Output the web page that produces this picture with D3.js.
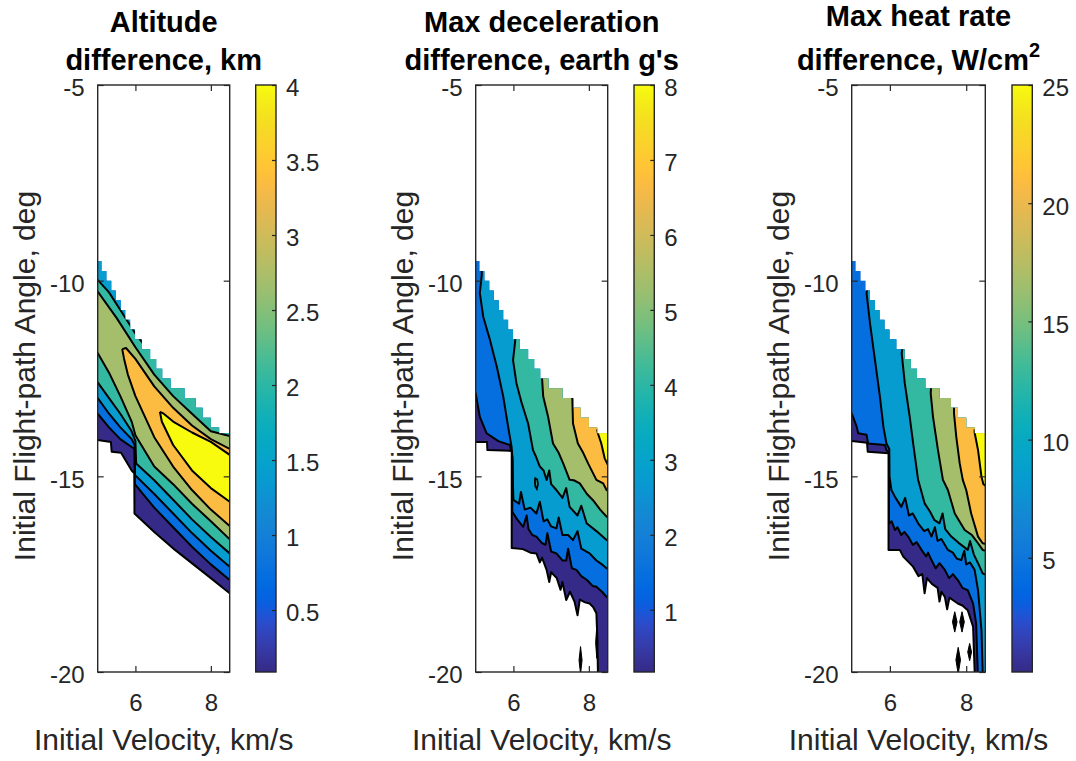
<!DOCTYPE html>
<html>
<head>
<meta charset="utf-8">
<script src="https://cdn.jsdelivr.net/npm/d3@7"></script>
<style>
  body { margin: 0; background: #fff; }
  svg text { font-family: "Liberation Sans", Arial, Helvetica, sans-serif; }
</style>
</head>
<body>
<svg id="chart" width="1076" height="761"></svg>
<script>
// ---- data (velocity km/s, flight-path angle deg) ----
var velTicks = [6, 8];
var gammaTicks = [-5, -10, -15, -20];
var altTicks = [0.5, 1, 1.5, 2, 2.5, 3, 3.5, 4];
var decTicks = [1, 2, 3, 4, 5, 6, 7, 8];
var heatTicks = [5, 10, 15, 20, 25];

// upper edge of the simulated region (same grid for all three)
var topEdge = [[5.0,-9.5],[5.1,-9.75],[5.23,-10.0],[5.36,-10.25],[5.48,-10.5],[5.61,-10.75],[5.73,-11.0],
  [5.86,-11.25],[5.99,-11.5],[6.17,-11.75],[6.39,-12.0],[6.55,-12.25],[6.71,-12.5],[6.93,-12.75],
  [7.3,-13.0],[7.6,-13.25],[7.78,-13.5],[8.0,-13.75],[8.22,-13.9],[8.5,-13.9]];

// altitude difference
var altBottom = [[5.0,-14.07],[5.35,-14.12],[5.37,-14.37],[5.62,-14.4],[5.9,-14.85],[5.97,-14.92],
  [5.975,-15.95],[6.5,-16.42],[7.05,-16.88],[7.84,-17.48],[8.5,-17.99],[8.6,-18.05]];
var altL1 = [[4.95,-13.4],[5.0,-13.4],[5.3,-13.75],[5.6,-14.05],[5.9,-14.25],[5.975,-14.3],[5.985,-15.2],
  [6.5,-15.8],[7.0,-16.3],[7.5,-16.8],[8.0,-17.25],[8.5,-17.65],[8.6,-17.7]];
var altL2 = [[4.95,-13.0],[5.0,-13.0],[5.3,-13.4],[5.6,-13.75],[5.9,-14.05],[5.98,-14.2],[5.99,-14.97],
  [6.5,-15.45],[7.0,-15.95],[7.5,-16.45],[8.0,-16.9],[8.5,-17.31],[8.6,-17.35]];
var altL3 = [[4.95,-12.6],[5.0,-12.6],[5.3,-13.0],[5.6,-13.4],[5.9,-13.85],[6.0,-14.1],[6.02,-14.67],
  [6.5,-15.1],[7.0,-15.6],[7.5,-16.1],[8.0,-16.55],[8.5,-16.97],[8.6,-17.0]];
var altL3u = [[4.95,-9.98],[5.0,-9.98],[5.3,-10.3],[5.6,-10.75],[6.0,-11.35],[6.2,-11.6]];
var altL4 = [[4.95,-11.85],[5.0,-11.85],[5.3,-12.35],[5.6,-12.95],[5.9,-13.6],[6.0,-13.95],[6.5,-14.75],
  [7.0,-15.2],[7.5,-15.7],[8.0,-16.15],[8.5,-16.61],[8.6,-16.65]];
var altL4u = [[4.95,-10.28],[5.0,-10.28],[5.5,-10.95],[6.0,-11.7],[6.5,-12.4],[7.0,-12.95],[7.5,-13.4],
  [8.0,-13.85],[8.5,-13.97],[8.6,-13.98]];
var altL5u = [[5.65,-11.75],[5.75,-11.72],[6.0,-12.0],[6.5,-12.7],[7.0,-13.25],[7.5,-13.7],[8.0,-14.05],
  [8.5,-14.3],[8.6,-14.32]];
var altL5 = [[5.65,-11.75],[5.7,-12.0],[5.8,-12.4],[6.0,-12.95],[6.5,-14.0],[7.0,-14.75],[7.5,-15.35],
  [8.0,-15.85],[8.5,-16.27],[8.6,-16.3]];
var altL6u = [[6.65,-13.35],[6.75,-13.4],[7.0,-13.6],[7.5,-13.88],[8.0,-14.12],[8.5,-14.45],[8.6,-14.47]];
var altL6 = [[6.65,-13.35],[6.7,-13.6],[7.0,-14.2],[7.5,-14.85],[8.0,-15.3],[8.5,-15.65],[8.6,-15.68]];

// max deceleration difference
var decBottom = [[5.0,-14.12],[5.3,-14.12],[5.31,-14.33],[5.955,-14.35],[5.955,-16.83],[6.25,-16.86],
  [6.45,-16.95],[6.61,-16.97],[6.7,-17.2],[6.76,-17.08],[6.88,-17.39],[6.95,-17.7],[7.0,-17.45],
  [7.15,-17.6],[7.25,-17.9],[7.3,-17.7],[7.4,-18.16],[7.5,-17.95],[7.62,-18.2],[7.7,-18.55],
  [7.76,-18.15],[7.9,-18.22],[8.02,-18.25],[8.12,-18.35],[8.2,-18.5],[8.22,-19.0],[8.24,-19.95],
  [8.24,-20.3],[8.6,-20.3]];
var decL1 = [[4.95,-12.88],[5.0,-12.88],[5.11,-13.48],[5.29,-13.9],[5.6,-14.1],[5.91,-14.2],[5.97,-14.5],
  [5.97,-15.9],[6.0,-15.95],[6.1,-16.1],[6.26,-16.29],[6.35,-16.0],[6.4,-16.35],[6.5,-16.5],[6.61,-16.54],
  [6.75,-16.7],[6.85,-16.75],[6.9,-16.45],[7.0,-16.92],[7.14,-16.97],[7.3,-17.15],[7.4,-17.15],
  [7.45,-16.85],[7.55,-17.35],[7.67,-17.39],[7.8,-17.55],[7.95,-17.65],[8.1,-17.8],[8.2,-17.82],
  [8.35,-17.95],[8.47,-18.08],[8.6,-18.1]];
var decL2 = [[5.16,-9.6],[5.16,-9.86],[5.11,-10.32],[5.2,-10.92],[5.38,-11.52],[5.56,-12.2],[5.73,-12.96],
  [5.86,-13.73],[5.95,-14.24],[5.98,-14.6],[5.99,-15.3],[6.0,-15.6],[6.15,-15.7],[6.2,-15.4],[6.3,-15.85],
  [6.45,-15.8],[6.61,-15.95],[6.7,-15.65],[6.8,-16.15],[6.9,-16.1],[7.0,-16.28],[7.14,-16.33],
  [7.2,-16.05],[7.3,-16.5],[7.45,-16.5],[7.58,-16.63],[7.7,-16.4],[7.8,-16.85],[8.02,-16.97],
  [8.2,-17.15],[8.35,-17.25],[8.47,-17.35],[8.6,-17.38]];
var decL3 = [[6.06,-11.4],[6.04,-11.6],[5.99,-12.03],[6.08,-12.62],[6.22,-13.13],[6.39,-13.65],
  [6.52,-14.33],[6.6,-14.5],[6.7,-14.75],[6.8,-14.85],[6.88,-15.09],[6.95,-14.85],[7.0,-15.2],
  [7.14,-15.35],[7.3,-15.55],[7.4,-15.3],[7.49,-15.78],[7.7,-16.0],[7.8,-15.75],[7.94,-16.2],
  [8.2,-16.4],[8.47,-16.63],[8.6,-16.65]];
var decL4 = [[6.75,-12.35],[6.79,-12.96],[6.92,-13.48],[7.05,-14.16],[7.2,-14.4],[7.32,-14.67],
  [7.49,-15.09],[7.6,-15.1],[7.76,-15.18],[7.95,-15.45],[8.11,-15.61],[8.3,-15.85],[8.47,-16.03],[8.6,-16.05]];
var decL5 = [[7.56,-12.95],[7.58,-13.65],[7.71,-14.16],[7.85,-14.4],[7.98,-14.67],[8.2,-15.09],
  [8.38,-15.18],[8.47,-15.35],[8.6,-15.4]];
var decL6 = [[8.22,-13.8],[8.24,-13.9],[8.33,-14.16],[8.42,-14.54],[8.5,-14.7],[8.6,-14.72]];
var decLoop = [[6.58,-15.05],[6.63,-15.08],[6.65,-15.2],[6.62,-15.32],[6.58,-15.25],[6.57,-15.12]];
var decBlobs = [
  [[7.78,-19.35],[7.82,-19.7],[7.78,-20.05],[7.74,-19.7]],
  [[8.21,-18.85],[8.24,-19.25],[8.21,-19.65],[8.18,-19.25]]
];

// max heat rate difference
var heatBottom = [[5.0,-14.1],[5.4,-14.14],[5.42,-14.37],[5.965,-14.41],[5.965,-16.88],[6.26,-16.88],
  [6.35,-17.05],[6.44,-17.14],[6.6,-17.3],[6.75,-17.55],[6.85,-17.5],[6.91,-17.99],[6.97,-17.6],
  [7.1,-17.75],[7.25,-17.85],[7.3,-18.2],[7.35,-17.95],[7.44,-18.08],[7.5,-18.4],[7.56,-18.1],
  [7.78,-18.25],[7.9,-18.3],[8.04,-18.42],[8.18,-18.84],[8.22,-19.95],[8.22,-20.3],[8.6,-20.3]];
var heatL1 = [[4.95,-13.39],[5.0,-13.39],[5.13,-13.73],[5.17,-13.9],[5.39,-13.94],[5.43,-14.16],
  [5.87,-14.2],[5.91,-14.33],[5.975,-14.38],[5.975,-16.1],[5.99,-16.2],[6.05,-16.15],[6.13,-16.37],
  [6.2,-16.3],[6.3,-16.5],[6.38,-16.42],[6.48,-16.54],[6.6,-16.75],[6.7,-16.68],[6.83,-16.88],
  [6.95,-17.05],[7.0,-16.95],[7.09,-17.14],[7.2,-17.35],[7.3,-17.22],[7.44,-17.39],[7.55,-17.6],
  [7.65,-17.5],[7.78,-17.65],[7.9,-17.85],[8.04,-17.91],[8.18,-18.25],[8.26,-18.76],[8.3,-19.95],[8.3,-20.3]];
var heatL2 = [[5.41,-10.2],[5.39,-10.32],[5.48,-11.09],[5.61,-12.03],[5.74,-12.97],[5.83,-13.73],
  [5.91,-14.16],[5.985,-14.3],[5.99,-15.0],[6.04,-15.35],[6.15,-15.55],[6.3,-15.78],[6.4,-15.55],
  [6.5,-16.0],[6.6,-15.95],[6.74,-16.2],[6.9,-16.4],[7.0,-16.35],[7.09,-16.54],[7.18,-16.3],
  [7.25,-16.65],[7.35,-16.6],[7.52,-16.88],[7.65,-16.95],[7.75,-17.1],[7.87,-17.14],[7.95,-16.9],
  [8.0,-17.25],[8.1,-17.2],[8.22,-17.39],[8.31,-17.91],[8.4,-18.93],[8.43,-19.95],[8.43,-20.3]];
var heatL3 = [[6.33,-11.7],[6.31,-11.86],[6.39,-12.62],[6.52,-13.48],[6.61,-14.16],[6.74,-15.09],
  [6.91,-15.69],[7.05,-15.9],[7.17,-16.12],[7.3,-16.2],[7.38,-15.95],[7.45,-16.35],[7.61,-16.54],
  [7.8,-16.7],[8.04,-16.88],[8.1,-16.65],[8.2,-17.0],[8.31,-17.22],[8.43,-17.48],[8.6,-17.55]];
var heatL4 = [[7.08,-12.7],[7.07,-12.88],[7.13,-13.48],[7.26,-14.33],[7.39,-15.09],[7.52,-15.35],
  [7.7,-15.95],[7.96,-16.37],[8.15,-16.5],[8.31,-16.71],[8.43,-16.88],[8.6,-16.92]];
var heatL5 = [[7.68,-13.2],[7.68,-13.39],[7.74,-13.99],[7.83,-14.67],[7.91,-15.09],[8.0,-15.35],
  [8.13,-15.95],[8.31,-16.54],[8.43,-16.71],[8.6,-16.75]];
var heatL6 = [[8.22,-13.8],[8.22,-13.88],[8.31,-14.33],[8.4,-15.01],[8.45,-15.2],[8.6,-15.3]];
var heatBlobs = [
  [[7.7,-18.46],[7.76,-18.72],[7.7,-18.98],[7.64,-18.72]],
  [[7.89,-18.46],[7.95,-18.72],[7.89,-18.98],[7.83,-18.72]],
  [[8.09,-19.27],[8.14,-19.49],[8.09,-19.71],[8.04,-19.49]],
  [[7.79,-19.37],[7.85,-19.69],[7.79,-20.05],[7.73,-19.69]]
];

// parula colormap (64 entries)
var cmap = [[0.2081,0.1663,0.5292],[0.2116,0.1898,0.5777],[0.2123,0.2138,0.627],[0.2081,0.2386,0.6771],
 [0.1959,0.2645,0.7279],[0.1707,0.2919,0.7792],[0.1253,0.3242,0.8303],[0.0591,0.3598,0.8683],
 [0.0117,0.3875,0.882],[0.006,0.4086,0.8828],[0.0165,0.4266,0.8786],[0.0329,0.443,0.872],
 [0.0498,0.4586,0.8641],[0.0629,0.4737,0.8554],[0.0723,0.4887,0.8467],[0.0779,0.504,0.8384],
 [0.0793,0.52,0.8312],[0.0749,0.5375,0.8263],[0.0641,0.557,0.824],[0.0488,0.5772,0.8228],
 [0.0343,0.5966,0.8199],[0.0265,0.6137,0.8135],[0.0239,0.6287,0.8038],[0.0231,0.6418,0.7913],
 [0.0228,0.6535,0.7768],[0.0267,0.6642,0.7607],[0.0384,0.6743,0.7436],[0.059,0.6838,0.7254],
 [0.0843,0.6928,0.7062],[0.1133,0.7015,0.6859],[0.1453,0.7098,0.6646],[0.1801,0.7177,0.6424],
 [0.2178,0.725,0.6193],[0.2586,0.7317,0.5954],[0.3022,0.7376,0.5712],[0.3482,0.7424,0.5473],
 [0.3953,0.7459,0.5244],[0.442,0.7481,0.5033],[0.4871,0.7491,0.484],[0.53,0.7491,0.4661],
 [0.5709,0.7485,0.4494],[0.6099,0.7473,0.4337],[0.6473,0.7456,0.4188],[0.6834,0.7435,0.4044],
 [0.7184,0.7411,0.3905],[0.7525,0.7384,0.3768],[0.7858,0.7356,0.3633],[0.8185,0.7327,0.3498],
 [0.8507,0.7299,0.336],[0.8824,0.7274,0.3217],[0.9139,0.7258,0.3063],[0.945,0.7261,0.2886],
 [0.9739,0.7314,0.2666],[0.9938,0.7455,0.2403],[0.999,0.7653,0.2164],[0.9955,0.7861,0.1967],
 [0.988,0.8066,0.1794],[0.9789,0.8271,0.1633],[0.9697,0.8481,0.1475],[0.9626,0.8705,0.1309],
 [0.9589,0.8949,0.1132],[0.9598,0.9218,0.0948],[0.9661,0.9514,0.0755],[0.9763,0.9831,0.0538]];

function parula(t) {
    var n = cmap.length - 1, p = Math.max(0, Math.min(1, t)) * n;
    var i = Math.min(Math.floor(p), n - 1), f = p - i;
    var c = cmap[i].map(function (v, j) { return (v + (cmap[i + 1][j] - v) * f) * 255; });
    return d3.rgb(c[0], c[1], c[2]).formatHex();
}

// region of values above a contour (to the right / above the line)
function skyRegion(line) {
    var a = line[0], b = line[line.length - 1];
    return line.concat([[9, b[1]], [9, -4], [a[0], -4]]);
}
// region between an upper and a lower contour
function bandRegion(upper, lower) {
    var pts = upper.concat([[9, upper[upper.length - 1][1]], [9, lower[lower.length - 1][1]]],
        lower.slice().reverse());
    if (lower[0][0] < 5) pts.push([4.5, lower[0][1]], [4.5, upper[0][1]]);
    return pts;
}

var plotTop = 85, plotBottom = 672;
var plain = function (d) { return String(d); };

var panels = [
    { left: 97.7, width: 132, cbLeft: 255.7, cmin: 0.087, cmax: 4, cTicks: altTicks,
      title: ["Altitude", "difference, km"], sup: null, bottom: altBottom,
      regions: [skyRegion(altL1), skyRegion(altL2), bandRegion(altL3u, altL3), bandRegion(altL4u, altL4),
                bandRegion(altL5u, altL5), bandRegion(altL6u, altL6)],
      lines: [altL1, altL2, altL3, altL3u, altL4, altL4u, altL5u, altL5, altL6u, altL6],
      loops: [], blobs: [] },
    { left: 475.7, width: 132, cbLeft: 634, cmin: 0.17, cmax: 8, cTicks: decTicks,
      title: ["Max deceleration", "difference, earth g's"], sup: null, bottom: decBottom,
      regions: [decL1, decL2, decL3, decL4, decL5, decL6].map(skyRegion),
      lines: [decL1, decL2, decL3, decL4, decL5, decL6],
      loops: [decLoop], blobs: decBlobs },
    { left: 851.7, width: 133.6, cbLeft: 1012, cmin: 0.17, cmax: 25, cTicks: heatTicks,
      title: ["Max heat rate", "difference, W/cm"], sup: "2", bottom: heatBottom,
      regions: [heatL1, heatL2, heatL3, heatL4, heatL5, heatL6].map(skyRegion),
      lines: [heatL1, heatL2, heatL3, heatL4, heatL5, heatL6],
      loops: [], blobs: heatBlobs }
];

var svg = d3.select("#chart");
var defs = svg.append("defs");
var grad = defs.append("linearGradient").attr("id", "parula")
    .attr("x1", 0).attr("y1", 1).attr("x2", 0).attr("y2", 0);
cmap.forEach(function (c, i) {
    grad.append("stop").attr("offset", i / (cmap.length - 1))
        .attr("stop-color", d3.rgb(c[0] * 255, c[1] * 255, c[2] * 255).formatHex());
});

var axisColor = "#262626";

function styleAxis(g, size) {
    g.select(".domain").remove();
    g.selectAll(".tick line").attr("stroke", axisColor).attr("stroke-width", 1.2);
    g.selectAll(".tick text").attr("fill", axisColor).style("font-size", size + "px");
}

panels.forEach(function (p, i) {
    var x = d3.scaleLinear().domain([5, 8.5]).range([p.left, p.left + p.width]);
    var y = d3.scaleLinear().domain([-5, -20]).range([plotTop, plotBottom]);
    var line = d3.line().x(function (d) { return x(d[0]); }).y(function (d) { return y(d[1]); });
    var step = d3.line().x(function (d) { return x(d[0]); }).y(function (d) { return y(d[1]); })
        .curve(d3.curveStepAfter);

    var domainD = step(topEdge) + line(p.bottom.slice().reverse()).replace(/^M/, "L") + "Z";

    defs.append("clipPath").attr("id", "plot" + i).append("rect")
        .attr("x", p.left).attr("y", plotTop).attr("width", p.width).attr("height", plotBottom - plotTop);
    defs.append("clipPath").attr("id", "dom" + i).append("path").attr("d", domainD);

    var outer = svg.append("g").attr("clip-path", "url(#plot" + i + ")");
    var inner = outer.append("g").attr("clip-path", "url(#dom" + i + ")");

    inner.append("path").attr("d", domainD).attr("fill", parula(0));
    p.regions.forEach(function (r, k) {
        inner.append("path").attr("d", line(r) + "Z").attr("fill", parula((k + 1) / 6));
    });
    p.loops.forEach(function (l) {
        inner.append("path").attr("d", line(l) + "Z").attr("fill", parula(3 / 6))
            .attr("stroke", "#000").attr("stroke-width", 1.8);
    });
    p.lines.forEach(function (l) {
        inner.append("path").attr("d", line(l)).attr("fill", "none")
            .attr("stroke", "#000").attr("stroke-width", 2).attr("stroke-linejoin", "round");
    });
    outer.append("path").attr("d", line(p.bottom)).attr("fill", "none")
        .attr("stroke", "#000").attr("stroke-width", 2).attr("stroke-linejoin", "round");
    p.blobs.forEach(function (b) {
        outer.append("path").attr("d", line(b) + "Z").attr("fill", "#000")
            .attr("stroke", "#000").attr("stroke-width", 1);
    });

    // axes
    var gl = svg.append("g").attr("transform", "translate(" + p.left + ",0)")
        .call(d3.axisLeft(y).tickValues(gammaTicks).tickSize(-6).tickPadding(13).tickFormat(plain));
    styleAxis(gl, 24);
    gl.selectAll(".tick text").attr("dy", "0.45em");
    var gr = svg.append("g").attr("transform", "translate(" + (p.left + p.width) + ",0)")
        .call(d3.axisRight(y).tickValues(gammaTicks).tickSize(-6).tickFormat(""));
    styleAxis(gr, 24);
    var gb = svg.append("g").attr("transform", "translate(0," + plotBottom + ")")
        .call(d3.axisBottom(x).tickValues(velTicks).tickSize(-6).tickPadding(22).tickFormat(plain));
    styleAxis(gb, 24);
    var gt = svg.append("g").attr("transform", "translate(0," + plotTop + ")")
        .call(d3.axisTop(x).tickValues(velTicks).tickSize(-6).tickFormat(""));
    styleAxis(gt, 24);

    svg.append("rect").attr("x", p.left).attr("y", plotTop).attr("width", p.width)
        .attr("height", plotBottom - plotTop).attr("fill", "none")
        .attr("stroke", axisColor).attr("stroke-width", 1.4);

    // colorbar
    var c = d3.scaleLinear().domain([p.cmin, p.cmax]).range([plotBottom, plotTop]);
    svg.append("rect").attr("x", p.cbLeft).attr("y", plotTop).attr("width", 20.3)
        .attr("height", plotBottom - plotTop).attr("fill", "url(#parula)");
    var gc = svg.append("g").attr("transform", "translate(" + (p.cbLeft + 20.3) + ",0)")
        .call(d3.axisRight(c).tickValues(p.cTicks).tickSize(-4).tickPadding(10).tickFormat(plain));
    styleAxis(gc, 24);
    gc.selectAll(".tick text").attr("dy", "0.45em");
    svg.append("rect").attr("x", p.cbLeft).attr("y", plotTop).attr("width", 20.3)
        .attr("height", plotBottom - plotTop).attr("fill", "none")
        .attr("stroke", axisColor).attr("stroke-width", 1.4);

    // titles and labels
    var cx = p.left + p.width / 2;
    svg.append("text").attr("x", cx).attr("y", p.sup ? 26 : 31.7).attr("text-anchor", "middle")
        .style("font-size", "29px").style("font-weight", "bold").attr("fill", "#000").text(p.title[0]);
    var t2 = svg.append("text").attr("x", cx).attr("y", 70).attr("text-anchor", "middle")
        .style("font-size", "29px").style("font-weight", "bold").attr("fill", "#000");
    t2.append("tspan").text(p.title[1]);
    if (p.sup) t2.append("tspan").attr("dy", -13).style("font-size", "20px").text(p.sup);

    svg.append("text").attr("x", cx).attr("y", 750).attr("text-anchor", "middle")
        .style("font-size", "30px").attr("fill", axisColor).text("Initial Velocity, km/s");
    svg.append("text").attr("transform", "translate(" + (p.left - 63) + "," + 376 + ") rotate(-90)")
        .attr("text-anchor", "middle").style("font-size", "30px").attr("fill", axisColor)
        .text("Initial Flight-path Angle, deg");
});
</script>
</body>
</html>
